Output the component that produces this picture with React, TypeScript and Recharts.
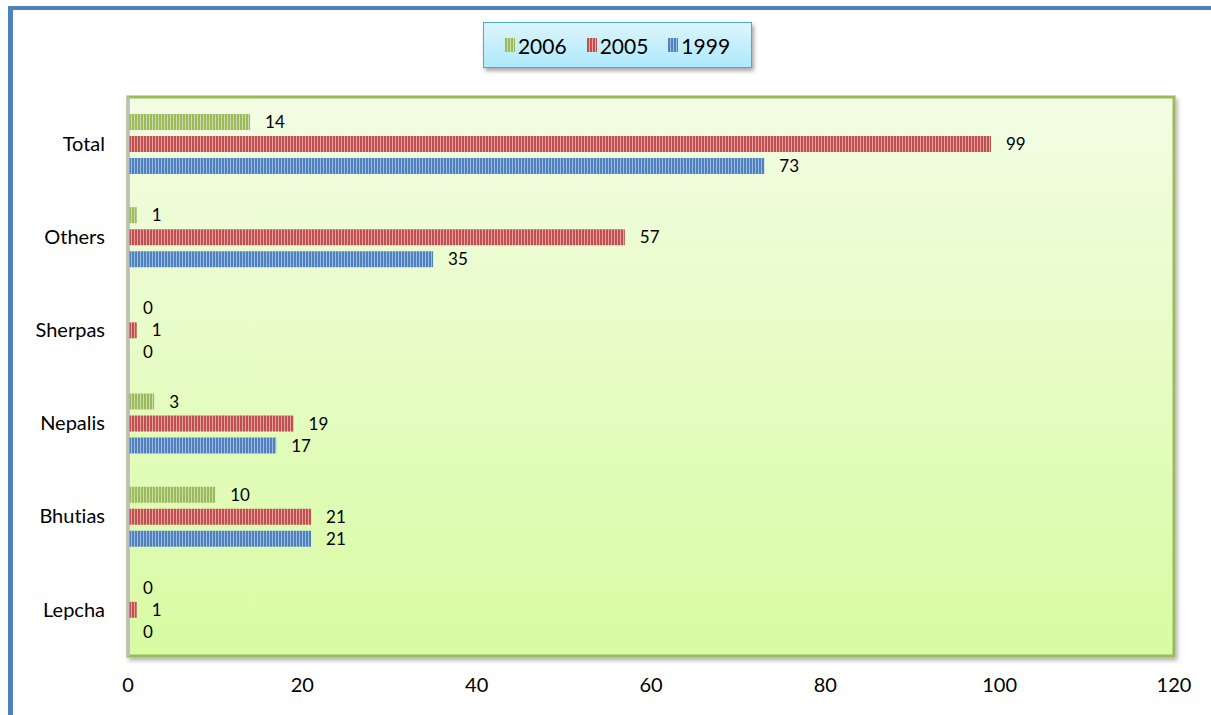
import React from 'react';
import { BarChart, Bar, XAxis, YAxis, ReferenceArea, LabelList } from 'recharts';

// ethnic groups, top to bottom
const groups = ['Total', 'Others', 'Sherpas', 'Nepalis', 'Bhutias', 'Lepcha'];
const y2006 = [14, 1, 0, 3, 10, 0];
const y2005 = [99, 57, 1, 19, 21, 1];
const y1999 = [73, 35, 0, 17, 21, 0];
const xTicks = [0, 20, 40, 60, 80, 100, 120];

const series = [
  { key: 'y2006', name: '2006', color: '#9bbb59', light: '#cddcae' },
  { key: 'y2005', name: '2005', color: '#c0504d', light: '#e6a3a1' },
  { key: 'y1999', name: '1999', color: '#4f81bd', light: '#9dbbe0' },
];

const data = groups.map((g, i) => ({
  group: g,
  y2006: y2006[i],
  y2005: y2005[i],
  y1999: y1999[i],
}));

const font = 'Lato, "Open Sans", sans-serif';

const LegendBox = () => (
  <div
    style={{
      position: 'absolute',
      left: 483,
      top: 22,
      width: 267,
      height: 44,
      border: '1px solid #4bacc6',
      background: 'linear-gradient(#dcf5fd, #aee9fb)',
      boxShadow: '2px 3px 4px rgba(0,0,0,0.35)',
      display: 'flex',
      alignItems: 'center',
      justifyContent: 'center',
      gap: 20,
      fontFamily: font,
      fontSize: 21,
      color: '#000',
    }}
  >
    {series.map((s) => (
      <div key={s.key} style={{ display: 'flex', alignItems: 'center', gap: 3 }}>
        <svg width={10} height={14}>
          <rect width={10} height={14} fill={`url(#stripe-${s.key})`} />
        </svg>
        <span>{s.name}</span>
      </div>
    ))}
  </div>
);

const App: React.FC = () => {
  return (
    <div
      style={{
        position: 'absolute',
        left: 0,
        top: 0,
        width: 1211,
        height: 715,
        background: '#fff',
        overflow: 'hidden',
        fontVariantLigatures: 'none',
      }}
    >
      {/* outer frame, only left and top edges are in view */}
      <div
        style={{
          position: 'absolute',
          left: 8,
          top: 6,
          width: 1300,
          height: 800,
          borderLeft: '5px solid #4f81bd',
          borderTop: '4px solid #4f81bd',
        }}
      />
      <BarChart
        width={1211}
        height={715}
        data={data}
        layout="vertical"
        margin={{ top: 97, right: 37, bottom: 0, left: 0 }}
        barSize={16}
        barGap={6}
        style={{ position: 'absolute', left: 0, top: 0 }}
      >
        <defs>
          <linearGradient id="plotBg" x1="0" y1="0" x2="0" y2="1">
            <stop offset="0%" stopColor="#f3fde4" />
            <stop offset="100%" stopColor="#d8fba2" />
          </linearGradient>
          <filter id="plotShadow" x="-5%" y="-5%" width="110%" height="110%">
            <feDropShadow dx="2" dy="3" stdDeviation="2" floodColor="#000" floodOpacity="0.3" />
          </filter>
          {series.map((s) => (
            <pattern key={s.key} id={`stripe-${s.key}`} width={3} height={4} patternUnits="userSpaceOnUse">
              <rect width={3} height={4} fill={s.color} />
              <rect x={2} width={1} height={4} fill={s.light} />
            </pattern>
          ))}
        </defs>
        <ReferenceArea
          x1={0}
          x2={120}
          fill="url(#plotBg)"
          fillOpacity={1}
          stroke="#9bbb59"
          strokeWidth={3}
          filter="url(#plotShadow)"
        />
        <XAxis
          type="number"
          domain={[0, 120]}
          ticks={xTicks}
          height={59}
          axisLine={false}
          tickLine={false}
          tickSize={0}
          tickMargin={22}
          tick={{ fontSize: 20, fill: '#000', fontFamily: font }}
        />
        <YAxis
          type="category"
          dataKey="group"
          width={128}
          axisLine={{ stroke: '#bdbdbd', strokeWidth: 3 }}
          tickLine={false}
          tickSize={0}
          tickMargin={23}
          tick={{ fontSize: 20, fill: '#000', fontFamily: font }}
        />
        {series.map((s) => (
          <Bar
            key={s.key}
            dataKey={s.key}
            name={s.name}
            fill={`url(#stripe-${s.key})`}
            minPointSize={0.01}
            isAnimationActive={false}
          >
            <LabelList
              dataKey={s.key}
              position="right"
              offset={15}
              style={{ fontSize: 17, fill: '#000', fontFamily: font }}
            />
          </Bar>
        ))}
      </BarChart>
      <LegendBox />
    </div>
  );
};

export default App;
